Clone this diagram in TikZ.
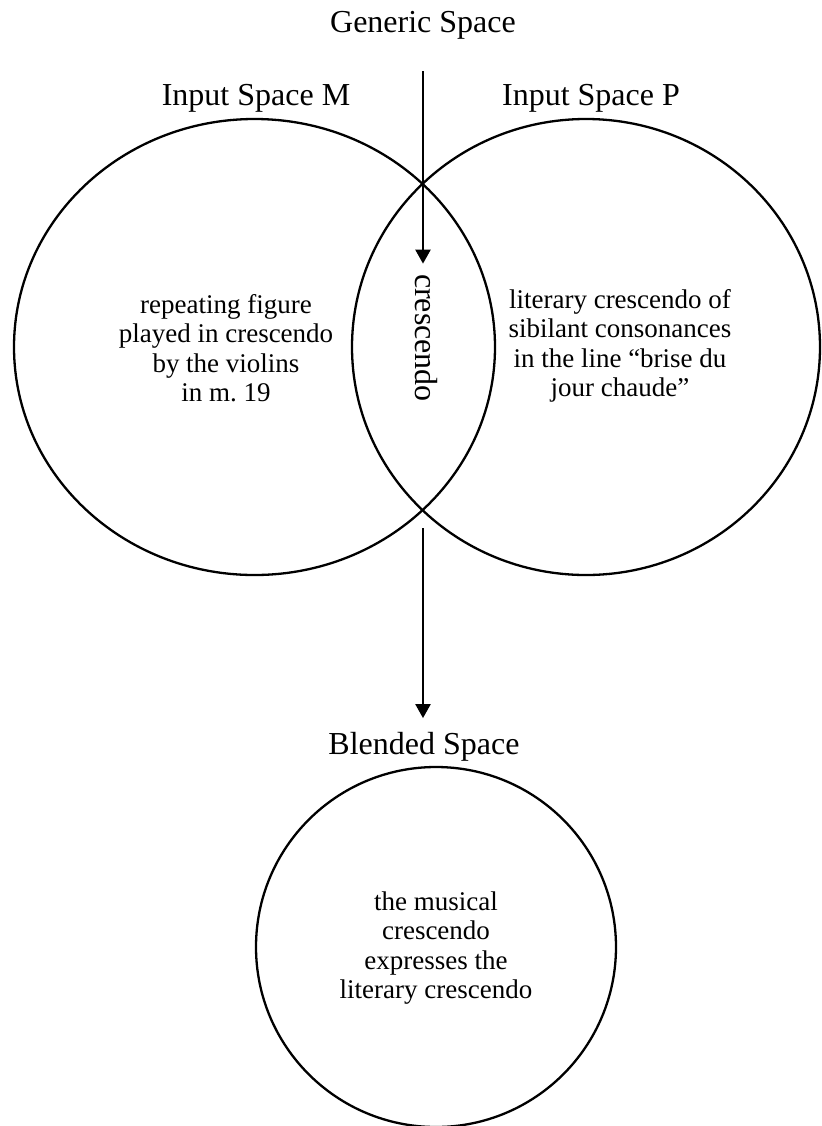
\documentclass[tikz,border=0pt]{standalone}
\usepackage{fontspec}
\setmainfont{Liberation Serif}
\usetikzlibrary{shapes.geometric, arrows.meta, positioning}

\begin{document}
\begin{tikzpicture}[
    x=0.5pt, y=-0.5pt,
    title/.style={font=\fontsize{16}{19}\selectfont, inner sep=0pt},
    body/.style={font=\fontsize{13.5}{14.7}\selectfont, align=center, inner sep=0pt},
    space/.style={ellipse, draw, line width=1.15pt, inner sep=0pt},
    flow/.style={-{Triangle[width=7.5pt, length=7pt]}, line width=1.15pt}
]
\useasboundingbox (0,0) rectangle (821,1126);

% Spaces
\node[space, minimum width=240.5pt, minimum height=228pt] (spaceM) at (254.5,347) {};
\node[space, minimum width=234pt, minimum height=228pt] (spaceP) at (586,347) {};
\node[space, minimum size=180pt] (blend) at (436,947) {};

% Labels
\node[title] (generic) at (423,25) {Generic Space};
\node[title] (labelM) at (256,98) {Input Space M};
\node[title] (labelP) at (591,98) {Input Space P};
\node[title] (labelB) at (424,747) {Blended Space};
\node[title, rotate=-90] (cresc) at (426,338) {crescendo};

% Contents
\node[body] (textM) at (226,348) {repeating figure\\played in crescendo\\by the violins\\in m.\ 19};
\node[body] (textP) at (620,346) {literary crescendo of\\sibilant consonances\\in the line “brise du\\jour chaude”};
\node[body] (textB) at (436,948) {the musical\\crescendo\\expresses the\\literary crescendo};

% Arrows
\coordinate (gtop) at (423,71);
\coordinate (btop) at (423,528);
\draw[flow, shorten >=5pt] (gtop) -- (gtop |- cresc.west);
\draw[flow, shorten >=7pt] (btop) -- (btop |- labelB.north);

\end{tikzpicture}
\end{document}
